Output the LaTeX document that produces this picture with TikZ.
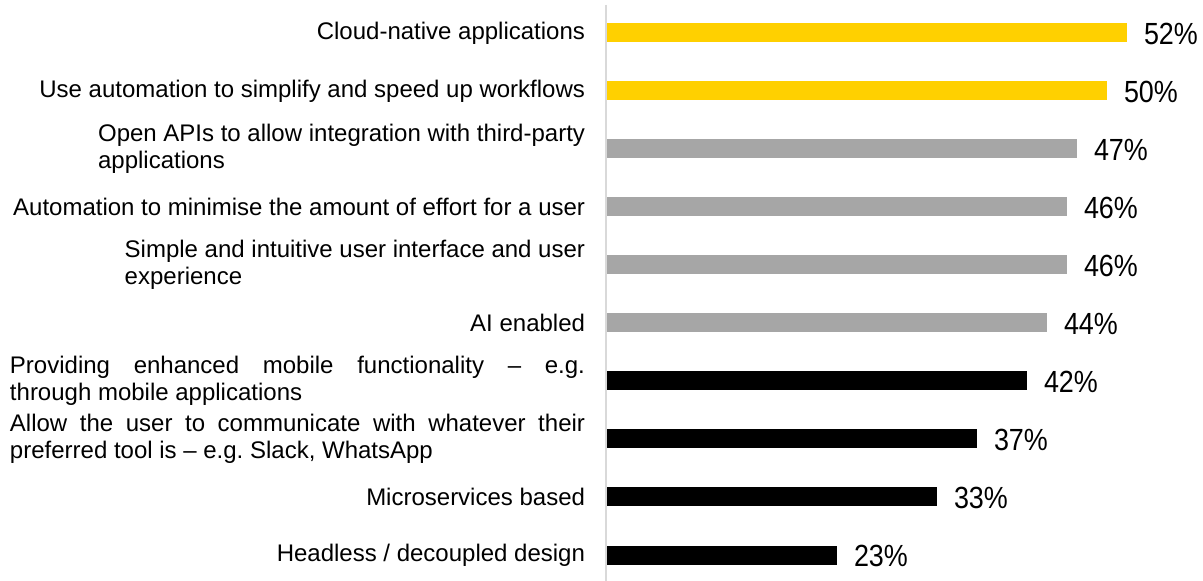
\documentclass[tikz,border=0pt]{standalone}
\usepackage{fontspec}
\setmainfont{Liberation Sans}
\newfontfamily\valuefont[FakeStretch=0.88]{Liberation Sans} % narrow, tall figures
\usetikzlibrary{positioning}
\definecolor{topyellow}{RGB}{255,208,0}
\definecolor{midgrey}{RGB}{166,166,166}
\definecolor{axisgrey}{RGB}{217,217,217}
\hyphenpenalty=10000 % no hyphens in the justified labels
\hbadness=10000
\tikzset{
  chart/.style={
	x=5pt, % one percent of bar length
	y=-29pt, % one row, counted downwards
	every node/.style={inner sep=0pt, outer sep=0pt},
  },
  bar/.style={line width=9.5pt}, % butt caps keep the bar ends square
  item/.style={font=\fontsize{12}{13.5}\selectfont, align=left, node distance=11pt},
  longitem/.style={item, text width=287.5pt, align=justify},
  value/.style={font=\valuefont\fontsize{15.3}{18}\selectfont, node distance=8.5pt, yshift=-0.5pt},
  axis/.style={draw=axisgrey, line width=1pt},
}

\begin{document}
\begin{tikzpicture}[chart]
	  \useasboundingbox (-303.5pt,-12.5pt) rectangle (298pt,-303pt);
	  % bar ends
	  \coordinate (e1) at (52,1);
	  \coordinate (e2) at (50,2);
	  \coordinate (e3) at (47,3);
	  \coordinate (e4) at (46,4);
	  \coordinate (e5) at (46,5);
	  \coordinate (e6) at (44,6);
	  \coordinate (e7) at (42,7);
	  \coordinate (e8) at (37,8);
	  \coordinate (e9) at (33,9);
	  \coordinate (e10) at (23,10);
	  % bars
	  \draw[bar, topyellow] (0,1) -- (e1);
	  \draw[bar, topyellow] (0,2) -- (e2);
	  \draw[bar, midgrey] (0,3) -- (e3);
	  \draw[bar, midgrey] (0,4) -- (e4);
	  \draw[bar, midgrey] (0,5) -- (e5);
	  \draw[bar, midgrey] (0,6) -- (e6);
	  \draw[bar, black] (0,7) -- (e7);
	  \draw[bar, black] (0,8) -- (e8);
	  \draw[bar, black] (0,9) -- (e9);
	  \draw[bar, black] (0,10) -- (e10);
	  % values
	  \node[value, right=of e1] (v1) {52\%};
	  \node[value, right=of e2] (v2) {50\%};
	  \node[value, right=of e3] (v3) {47\%};
	  \node[value, right=of e4] (v4) {46\%};
	  \node[value, right=of e5] (v5) {46\%};
	  \node[value, right=of e6] (v6) {44\%};
	  \node[value, right=of e7] (v7) {42\%};
	  \node[value, right=of e8] (v8) {37\%};
	  \node[value, right=of e9] (v9) {33\%};
	  \node[value, right=of e10] (v10) {23\%};
	  % category labels, right of each one on the axis
	  \coordinate (a1) at (0,1);
	  \coordinate (a2) at (0,2);
	  \coordinate (a3) at (0,3);
	  \coordinate (a4) at (0,4);
	  \coordinate (a5) at (0,5);
	  \coordinate (a6) at (0,6);
	  \coordinate (a7) at (0,7);
	  \coordinate (a8) at (0,8);
	  \coordinate (a9) at (0,9);
	  \coordinate (a10) at (0,10);
	  \node[item, left=of a1] (l1) {Cloud-native applications};
	  \node[item, left=of a2] (l2) {Use automation to simplify and speed up workflows};
	  \node[item, left=of a3] (l3) {Open APIs to allow integration with third-party\\applications};
	  \node[item, left=of a4] (l4) {Automation to minimise the amount of effort for a user};
	  \node[item, left=of a5] (l5) {Simple and intuitive user interface and user\\experience};
	  \node[item, left=of a6] (l6) {AI enabled};
	  \node[longitem, left=of a7] (l7) {Providing enhanced mobile functionality -- e.g.\linebreak through mobile applications};
	  \node[longitem, left=of a8] (l8) {Allow the user to communicate with whatever their\linebreak preferred tool is -- e.g.\ Slack, WhatsApp};
	  \node[item, left=of a9] (l9) {Microservices based};
	  \node[item, left=of a10] (l10) {Headless / decoupled design};
	  % axis
	  \coordinate (top) at (-0.5pt,-15pt);
	  \coordinate (bottom) at (-0.5pt,-303pt);
	  \draw[axis] (top) -- (bottom);
\end{tikzpicture}
\end{document}
